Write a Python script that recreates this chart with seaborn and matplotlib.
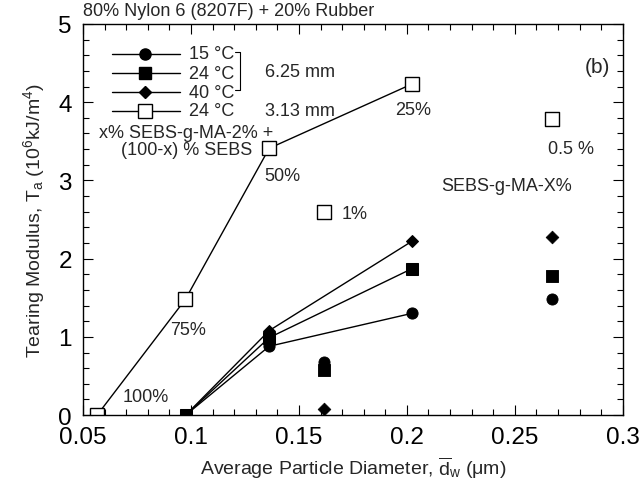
import numpy as np
import pandas as pd
import matplotlib
matplotlib.use("Agg")
import matplotlib.pyplot as plt
import seaborn as sns
from matplotlib.ticker import MultipleLocator

sns.set_theme(style="ticks")
plt.rcParams['font.family'] = ['Liberation Sans', 'DejaVu Sans']
plt.rcParams['mathtext.fontset'] = 'custom'
plt.rcParams['mathtext.rm'] = 'Liberation Sans'
plt.rcParams['mathtext.it'] = 'Liberation Sans:italic'

# ---- data ----
d_line_625 = [0.0975, 0.1362, 0.2022]
T15_line = [0.0, 0.88, 1.30]
T24_line = [0.0, 0.99, 1.87]
T40_line = [0.0, 1.08, 2.22]

d_line_313 = [0.0565, 0.0974, 0.1362, 0.2022]
T313_line = [0.0, 1.48, 3.41, 4.23]
blend_labels = ["100%", "75%", "50%", "25%"]

d_iso = [0.1615, 0.2674]
T15_iso = [0.68, 1.49]
T24_iso = [0.58, 1.78]
T40_iso = [0.08, 2.28]
T313_iso = [2.59, 3.78]
iso_labels = ["1%", "0.5 %"]

legend_labels = ["15 °C", "24 °C", "40 °C", "24 °C"]
legend_rows = [4.62, 4.37, 4.13, 3.89]

fig, ax = plt.subplots(figsize=(6.44, 4.89), dpi=100)
fig.subplots_adjust(left=0.129, right=0.967, top=0.949, bottom=0.149)

lw = 1.0
sns.lineplot(x=d_line_625, y=T15_line, ax=ax, color='black', lw=lw,
             marker='o', ms=8, mec='black', mfc='black')
sns.lineplot(x=d_line_625, y=T24_line, ax=ax, color='black', lw=lw,
             marker='s', ms=8, mec='black', mfc='black')
sns.lineplot(x=d_line_625, y=T40_line, ax=ax, color='black', lw=lw,
             marker='D', ms=6.5, mec='black', mfc='black')
sns.lineplot(x=d_line_313, y=T313_line, ax=ax, color='black', lw=lw,
             marker='s', ms=10, mec='black', mfc='white', mew=1.0)

sns.scatterplot(x=d_iso, y=T15_iso, ax=ax, marker='o', s=64, color='black', edgecolor='black', zorder=3)
sns.scatterplot(x=d_iso, y=T24_iso, ax=ax, marker='s', s=64, color='black', edgecolor='black', zorder=3)
sns.scatterplot(x=d_iso, y=T40_iso, ax=ax, marker='D', s=42, color='black', edgecolor='black', zorder=3)
sns.scatterplot(x=d_iso, y=T313_iso, ax=ax, marker='s', s=100, color='white', edgecolor='black',
                linewidth=1.0, zorder=3)

ax.set_xlim(0.05, 0.3)
ax.set_ylim(0, 5)
ax.set_xticks([0.05, 0.1, 0.15, 0.2, 0.25, 0.3])
ax.set_xticklabels(["0.05", "0.1", "0.15", "0.2", "0.25", "0.3"])
ax.set_yticks([0, 1, 2, 3, 4, 5])
ax.set_yticklabels(["0", "1", "2", "3", "4", "5"])
ax.xaxis.set_minor_locator(MultipleLocator(0.01))
ax.yaxis.set_minor_locator(MultipleLocator(0.2))
ax.tick_params(which='both', direction='in', top=True, right=True, colors='black')
ax.tick_params(which='major', length=7, width=0.8, labelsize=17.5, pad=8)
ax.tick_params(which='minor', length=4, width=0.8)
for s in ax.spines.values():
    s.set_color('black')
    s.set_linewidth(1.0)

ax.set_xlabel(r"Average Particle Diameter, $\overline{\mathrm{d}}_{\mathrm{w}}$ ($\mathrm{\mu}$m)", fontsize=14, labelpad=4)
ax.set_ylabel(r"Tearing Modulus, T$_\mathrm{a}$ (10$^6$kJ/m$^4$)", fontsize=14, labelpad=8)

fs = 13
ax.text(0.0, 1.012, "80% Nylon 6 (8207F) + 20% Rubber", transform=ax.transAxes,
        fontsize=fs, ha='left', va='bottom')
ax.text(0.294, 4.45, "(b)", fontsize=15, ha='right', va='center')

# blend labels
ax.text(0.0792, 0.24, blend_labels[0], fontsize=fs, ha='center', va='center')
ax.text(0.0988, 1.10, blend_labels[1], fontsize=fs, ha='center', va='center')
ax.text(0.1423, 3.06, blend_labels[2], fontsize=fs, ha='center', va='center')
ax.text(0.2031, 3.91, blend_labels[3], fontsize=fs, ha='center', va='center')
ax.text(0.1700, 2.58, iso_labels[0], fontsize=fs, ha='left', va='center')
ax.text(0.2758, 3.41, iso_labels[1], fontsize=fs, ha='center', va='center')
ax.text(0.0978, 3.50, "x% SEBS-g-MA-2% +\n(100-x) % SEBS", fontsize=fs,
        ha='center', va='center', linespacing=1.0)
ax.text(0.2460, 2.93, "SEBS-g-MA-X%", fontsize=fs, ha='center', va='center')

# legend (drawn in place)
leg_styles = [dict(marker='o', ms=8, mfc='black'),
              dict(marker='s', ms=8, mfc='black'),
              dict(marker='D', ms=6.5, mfc='black'),
              dict(marker='s', ms=10, mfc='white')]
for yv, lab, st in zip(legend_rows, legend_labels, leg_styles):
    ax.plot([0.0634, 0.0949], [yv, yv], color='black', lw=lw)
    ax.plot([0.0787], [yv], color='black', mec='black', ls='none', **st)
    ax.text(0.0990, yv, lab, fontsize=fs, ha='left', va='center')

ax.text(0.1343, 4.39, "6.25 mm", fontsize=fs, ha='left', va='center')
ax.text(0.1343, 3.89, "3.13 mm", fontsize=fs, ha='left', va='center')
ax.plot([0.1204, 0.1227, 0.1227, 0.1204], [4.64, 4.64, 4.16, 4.16], color='black', lw=0.8)

fig.savefig("out.png", dpi=100)
